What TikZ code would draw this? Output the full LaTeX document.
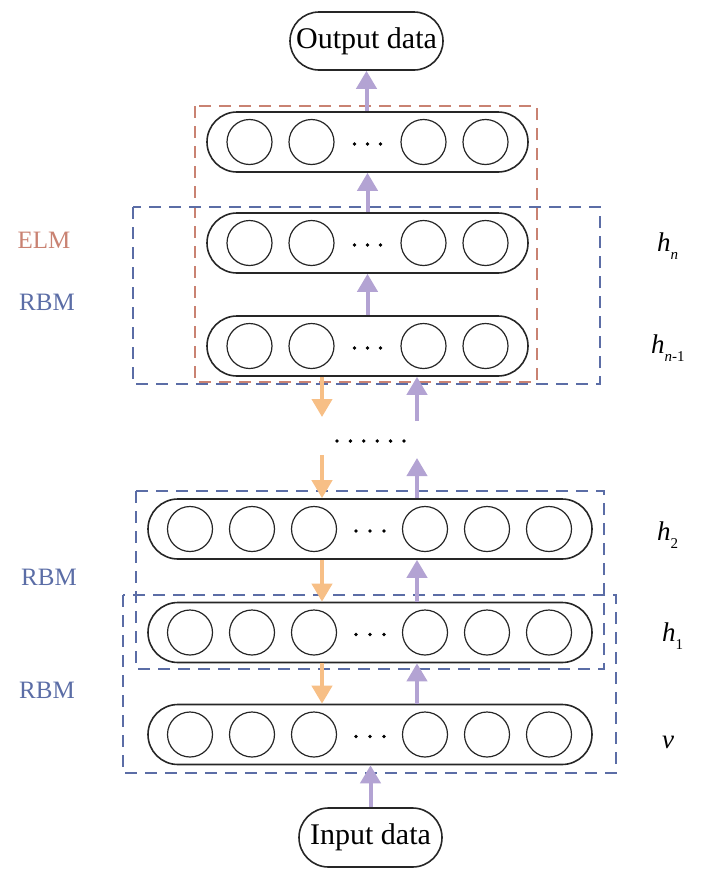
\documentclass[tikz,border=0pt]{standalone}
\usepackage{fontspec}
\setmainfont{Liberation Serif}
\usetikzlibrary{arrows.meta,shapes.misc}
\definecolor{elmred}{HTML}{C98272}
\definecolor{rbmblue}{HTML}{5B6DA6}
\definecolor{uparrow}{HTML}{B3A3D3}
\definecolor{downarrow}{HTML}{F7BF86}
\tikzset{
 pill/.style={rounded rectangle, draw=black!85, line width=1.6pt, minimum height=60pt, inner sep=0pt},
 neuron/.style={circle, draw=black!85, line width=1.2pt, minimum size=45pt, inner sep=0pt},
 iobox/.style={rounded rectangle, draw=black!85, line width=1.6pt, inner sep=0pt, font=\fontsize{30}{36}\selectfont},
 uparr/.style={draw=uparrow, line width=4pt, -{Triangle[width=20pt,length=18pt]}},
 downarr/.style={draw=downarrow, line width=4pt, -{Triangle[width=20pt,length=18pt]}},
 rbmbox/.style={draw=rbmblue, line width=1.8pt, dash pattern=on 12pt off 8pt},
 elmbox/.style={draw=elmred, line width=1.8pt, dash pattern=on 12pt off 8pt},
 dotmark/.style={circle, fill=black, minimum size=3.8pt, inner sep=0pt},
 sidelabel/.style={font=\fontsize{25}{30}\selectfont},
 layerlabel/.style={font=\fontsize{27}{30}\selectfont\itshape, anchor=base west, inner sep=0pt}
}
\newcommand{\sbs}[1]{\raisebox{-8pt}{\fontsize{15}{15}\selectfont #1}}
\begin{document}
\begin{tikzpicture}[x=1pt,y=-1pt]
\useasboundingbox (0,0) rectangle (704,881);

% dashed boxes
\draw[elmbox] (195,106) rectangle (537,382);
\draw[rbmbox] (133,207) rectangle (600,384);
\draw[rbmbox] (136,491) rectangle (604,669);
\draw[rbmbox] (123,595) rectangle (616,773);

% input / output
\node[iobox, minimum width=153pt, minimum height=58pt] (out) at (366.5,41) {Output data};
\node[iobox, minimum width=143pt, minimum height=59pt] (in) at (370.5,837.5) {Input data};

% upper layers (4 neurons)
\foreach \nm/\y in {top/142, hn/243, hnm/346}{
  \node[pill, minimum width=321pt] (\nm) at (367.5,\y) {};
  \foreach \k/\dx in {1/-118, 2/-56, 3/56, 4/118}{
    \node[neuron] (\nm-c\k) at (367.5+\dx,\y) {};
  }
  \foreach \k/\dx in {1/-13, 2/0, 3/13}{
    \node[dotmark] (\nm-d\k) at (367.5+\dx,\y+2) {};
  }
}

% lower layers (6 neurons)
\foreach \nm/\y in {htwo/529, hone/632.5, vis/734.5}{
  \node[pill, minimum width=444pt] (\nm) at (370,\y) {};
  \foreach \k/\dx in {1/-180, 2/-118, 3/-56, 4/55, 5/117, 6/179}{
    \node[neuron] (\nm-c\k) at (370+\dx,\y) {};
  }
  \foreach \k/\dx in {1/-14, 2/0, 3/14}{
    \node[dotmark] (\nm-d\k) at (370+\dx,\y+2) {};
  }
}

% middle dots
\foreach \k in {0,...,5}{
  \node[dotmark] (mid-d\k) at (337+13.4*\k,441) {};
}

% arrow columns and free ends
\coordinate (ox) at (322,0);
\coordinate (px) at (417,0);
\coordinate (oend) at (322,417);
\coordinate (ostart) at (322,455);
\coordinate (pstart) at (417,421);
\coordinate (pend) at (417,458);

% arrows
\draw[uparr] (top.north -| out.south) -- (out.south);
\draw[uparr] (hn.north -| top.south) -- (top.south);
\draw[uparr] (hnm.north) -- (hn.south);
\draw[downarr] (hnm.south -| ox) -- (oend);
\draw[uparr] (pstart) -- (hnm.south -| px);
\draw[downarr] (ostart) -- (htwo.north -| ox);
\draw[uparr] (htwo.north -| px) -- (pend);
\draw[downarr] (htwo.south -| ox) -- (hone.north -| ox);
\draw[uparr] (hone.north -| px) -- (htwo.south -| px);
\draw[downarr] (hone.south -| ox) -- (vis.north -| ox);
\draw[uparr] (vis.north -| px) -- (hone.south -| px);
\draw[uparr] (in.north) -- (vis.south -| in.north);

% side labels
\node[sidelabel, text=elmred] (elm) at (44,240) {ELM};
\node[sidelabel, text=rbmblue] (rbm1) at (47,302) {RBM};
\node[sidelabel, text=rbmblue] (rbm2) at (49,577) {RBM};
\node[sidelabel, text=rbmblue] (rbm3) at (47,690) {RBM};

% layer labels
\node[layerlabel] (lhn) at (657,251) {h\sbs{\textit{n}}};
\node[layerlabel] (lhnm) at (651,353) {h\sbs{\textit{n}\textup{-1}}};
\node[layerlabel] (lhtwo) at (657,540) {h\sbs{\textup{2}}};
\node[layerlabel] (lhone) at (662,641) {h\sbs{\textup{1}}};
\node[layerlabel] (lv) at (662,748) {v};
\end{tikzpicture}
\end{document}
